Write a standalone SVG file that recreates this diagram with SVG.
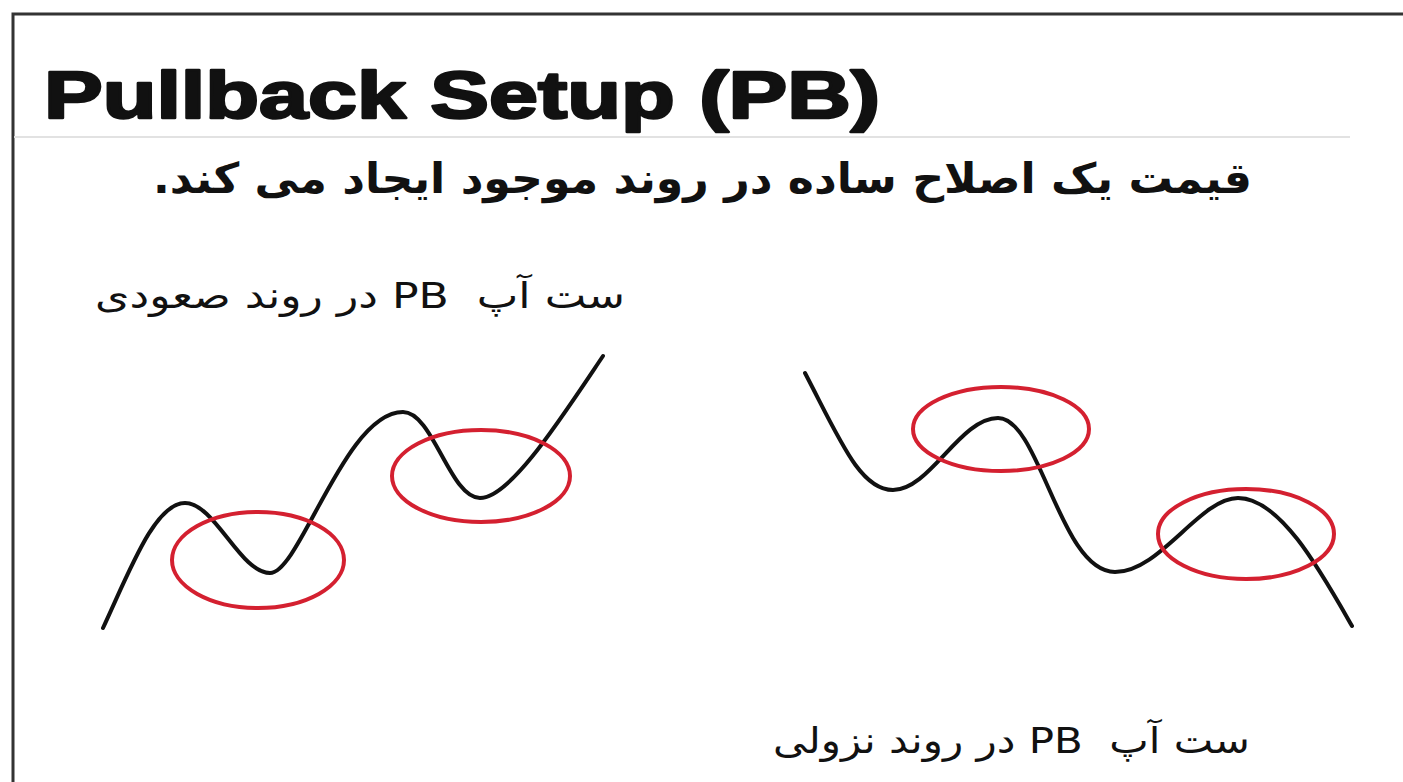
<svg xmlns="http://www.w3.org/2000/svg" width="1403" height="782" viewBox="0 0 1403 782">
<style>
.frame{fill:none;stroke:#333;stroke-width:3}
.trend{fill:none;stroke:#111;stroke-width:4;stroke-linecap:round;stroke-linejoin:round}
.zone{fill:none;stroke:#d42030;stroke-width:4}
.fa{font-family:"DejaVu Sans","Noto Sans",sans-serif;fill:#111;white-space:pre}
</style>
<rect width="1403" height="782" fill="#fff"/>
<path class="frame" d="M13,782 V14 H1403"/>
<line x1="14" y1="137" x2="1350" y2="137" stroke="#e2e2e2" stroke-width="2"/>
<g id="title">
<text x="44" y="118" font-family="'Liberation Sans',Arial,sans-serif" font-weight="900" font-size="66" fill="#111" stroke="#111" stroke-width="2.5" stroke-linejoin="round" textLength="836" lengthAdjust="spacingAndGlyphs">Pullback Setup (PB)</text>
</g>
<g id="subtitle">
<text class="fa" x="1252" y="193" font-size="42" font-weight="bold" direction="rtl" text-anchor="start" textLength="1099" lengthAdjust="spacingAndGlyphs">قیمت یک اصلاح ساده در روند موجود ایجاد می کند.</text>
</g>
<g id="uptrend">
<text class="fa" x="625" y="308" font-size="36" direction="rtl" text-anchor="start" textLength="530" lengthAdjust="spacingAndGlyphs">ست آپ  PB در روند صعودی</text>
<path class="trend" d="M103,628 C130,570 155,503 185,503 C215,503 240,573 270,573 C300,573 345,412 403,412 C433,412 450,498 480,498 C510,498 560,420 603,356"/>
<ellipse class="zone" cx="258" cy="560" rx="86" ry="48"/>
<ellipse class="zone" cx="481" cy="476" rx="89" ry="46"/>
</g>
<g id="downtrend">
<text class="fa" x="1250" y="753" font-size="36" direction="rtl" text-anchor="start" textLength="477" lengthAdjust="spacingAndGlyphs">ست آپ  PB در روند نزولی</text>
<path class="trend" d="M805,373 C840,440 860,490 893,490 C930,490 960,418 998,418 C1040,418 1060,572 1115,572 C1160,572 1200,498 1238,498 C1280,498 1320,570 1352,626"/>
<ellipse class="zone" cx="1001" cy="429" rx="88" ry="42"/>
<ellipse class="zone" cx="1246" cy="534" rx="88" ry="45"/>
</g>
</svg>
